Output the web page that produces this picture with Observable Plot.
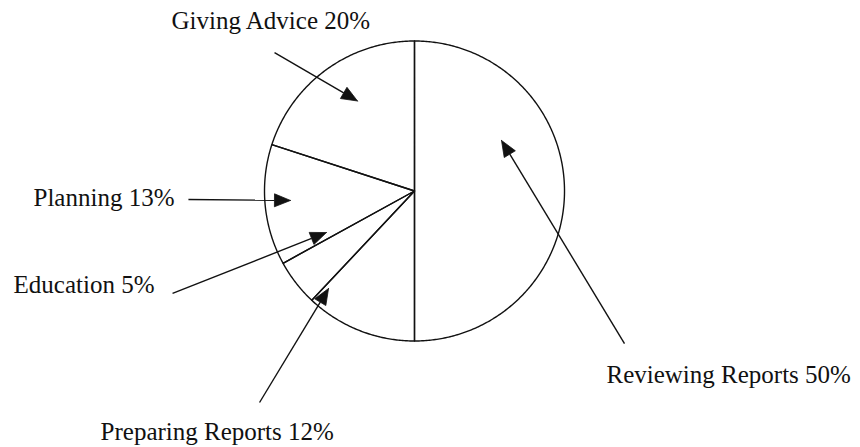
<!DOCTYPE html>
<html>
<head>
<meta charset="utf-8">
<script src="https://cdn.jsdelivr.net/npm/d3@7"></script>
<script src="https://cdn.jsdelivr.net/npm/@observablehq/plot@0.6"></script>
<style>
  body { margin: 0; background: #fff; }
</style>
</head>
<body>
<div id="chart"></div>
<script>
// ---- data ----
const categories = ["Reviewing Reports", "Preparing Reports", "Education", "Planning", "Giving Advice"];
const shares = [50, 12, 5, 13, 20];
const labelTexts = categories.map((c, i) => `${c} ${shares[i]}%`);

// ---- layout (units = pie radius, origin = pie centre, y up) ----
const labelAt = [
  [1.28, -1.283],   // Reviewing
  [-2.093, -1.657], // Preparing
  [-2.673, -0.683], // Education
  [-2.54, -0.103],  // Planning
  [-1.62, 1.083]    // Giving Advice
];
const arrowTail = [
  [1.4, -1.017],
  [-1.033, -1.41],
  [-1.613, -0.683],
  [-1.507, -0.057],
  [-0.933, 0.923]
];
const arrowTip = [
  [0.58, 0.337],
  [-0.573, -0.65],
  [-0.587, -0.277],
  [-0.827, -0.063],
  [-0.38, 0.6]
];
const headLen = 16 / 150, headHalf = 6.5 / 150;

// ---- derived geometry ----
const arcs = d3.pie().sort(null).value(d => d)(shares);
const slicePts = arcs.flatMap((p, i) => {
  const k = categories[i];
  const pts = [{x: 0, y: 0, k}];
  const n = Math.max(2, Math.ceil((p.endAngle - p.startAngle) / 0.01));
  for (let j = 0; j <= n; j++) {
    const a = p.startAngle + (p.endAngle - p.startAngle) * j / n;
    pts.push({x: Math.sin(a), y: Math.cos(a), k});
  }
  pts.push({x: 0, y: 0, k});
  return pts;
});

const arrows = categories.map((k, i) => {
  const [x1, y1] = arrowTail[i], [x2, y2] = arrowTip[i];
  const len = Math.hypot(x2 - x1, y2 - y1);
  const dx = (x2 - x1) / len, dy = (y2 - y1) / len;
  const bx = x2 - dx * headLen, by = y2 - dy * headLen;
  return {k, x1, y1, x2: bx, y2: by, tip: [x2, y2],
    c1: [bx - dy * headHalf, by + dx * headHalf],
    c2: [bx + dy * headHalf, by - dx * headHalf]};
});
const heads = arrows.flatMap(a => [a.tip, a.c1, a.c2, a.tip].map(([x, y]) => ({x, y, k: a.k})));
const labels = categories.map((k, i) => ({x: labelAt[i][0], y: labelAt[i][1], text: labelTexts[i]}));

const ink = "#111";
const chart = Plot.plot({
  width: 860,
  height: 447,
  margin: 0,
  x: {domain: [-2.76, 2.9733], axis: null},
  y: {domain: [-1.71, 1.27], axis: null},
  style: {background: "#fff", fontFamily: "'Liberation Serif', 'Times New Roman', serif"},
  marks: [
    Plot.line(slicePts, {x: "x", y: "y", z: "k", stroke: ink, strokeWidth: 1.4, fill: "none", strokeLinejoin: "round"}),
    Plot.link(arrows, {x1: "x1", y1: "y1", x2: "x2", y2: "y2", stroke: ink, strokeWidth: 1.4}),
    Plot.line(heads, {x: "x", y: "y", z: "k", fill: ink, stroke: ink, strokeWidth: 0.8}),
    Plot.text(labels, {x: "x", y: "y", text: "text", textAnchor: "start", lineAnchor: "bottom", fontSize: 25, fill: ink})
  ]
});
document.getElementById("chart").appendChild(chart);
</script>
</body>
</html>
